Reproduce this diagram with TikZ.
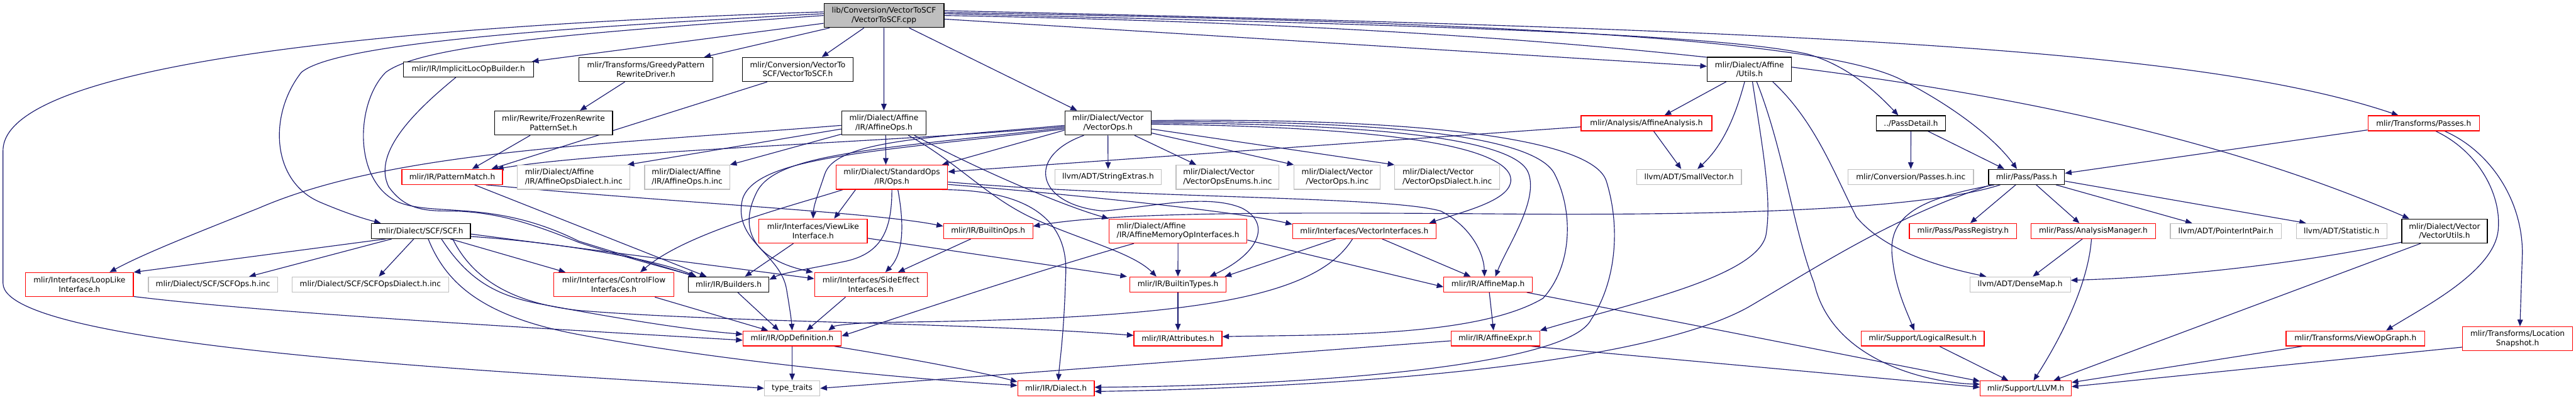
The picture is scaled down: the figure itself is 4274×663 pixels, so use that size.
\documentclass[tikz,border=0pt]{standalone}
\usepackage{fontspec}
\newfontfamily\dvs{DejaVu Sans}
\usetikzlibrary{arrows.meta,calc}
\definecolor{edgec}{HTML}{191970}
\definecolor{redc}{HTML}{FF0000}
\definecolor{grayc}{HTML}{BFBFBF}
\definecolor{mainfill}{HTML}{BFBFBF}
\pgfdeclarelayer{back}
\pgfdeclarelayer{edges}
\pgfsetlayers{back,edges,main}
\tikzset{
  nb/.style={rectangle, line width=1.3pt, inner sep=0pt, minimum height=25pt, fill=white, text=black, font={\dvs\fontsize{12.7}{15}\selectfont}},
  tl/.style={minimum height=40pt, align=center},
  tll/.style={minimum height=40pt, align=left},
  blk/.style={nb, draw=black},
  rd/.style={nb, draw=redc},
  gr/.style={nb, draw=grayc},
  mn/.style={nb, draw=black, fill=mainfill},
  e/.style={draw=edgec, line width=1.2pt, -{Triangle[length=11pt,width=9pt]}},
}
\begin{document}
\begin{tikzpicture}[x=1pt,y=-1pt]
\begin{pgfonlayer}{back}
\fill[white] (0,0) rectangle (4274,663);
\end{pgfonlayer}
\useasboundingbox (0,0) rectangle (4274,663);
% rank 0
\node[mn,tl,minimum width=199pt] (main) at (1466.6,25.7) {lib/Conversion/VectorToSCF\\/VectorToSCF.cpp};
% rank 1
\node[blk,minimum width=216pt] (ILB) at (777,115.2) {mlir/IR/ImplicitLocOpBuilder.h};
\node[blk,tl,minimum width=222pt] (GPR) at (1071.6,115.3) {mlir/Transforms/GreedyPattern\\RewriteDriver.h};
\node[blk,tl,minimum width=184pt] (V2S) at (1323.5,115.3) {mlir/Conversion/VectorTo\\SCF/VectorToSCF.h};
\node[blk,tl,minimum width=140pt] (AU) at (2902.6,115) {mlir/Dialect/Affine\\/Utils.h};
% rank 2
\node[blk,tl,minimum width=196pt] (FRP) at (918.3,204) {mlir/Rewrite/FrozenRewrite\\PatternSet.h};
\node[blk,tl,minimum width=140pt] (AOps) at (1466.5,204) {mlir/Dialect/Affine\\/IR/AffineOps.h};
\node[blk,tl,minimum width=143pt] (VOps) at (1838.2,204) {mlir/Dialect/Vector\\/VectorOps.h};
\node[rd,minimum width=217pt] (AAn) at (2731.7,204.5) {mlir/Analysis/AffineAnalysis.h};
\node[blk,minimum width=115pt] (PD) at (3170.5,204.5) {../PassDetail.h};
\node[rd,minimum width=185pt] (TP) at (4021.2,204.5) {mlir/Transforms/Passes.h};
% rank 3
\node[rd,minimum width=167pt] (PM) at (750.3,293.5) {mlir/IR/PatternMatch.h};
\node[gr,tll,minimum width=187pt] (AOD) at (951.9,294) {mlir/Dialect/Affine\\/IR/AffineOpsDialect.h.inc};
\node[gr,tll,minimum width=141pt] (AOI) at (1140.1,294) {mlir/Dialect/Affine\\/IR/AffineOps.h.inc};
\node[rd,tl,minimum width=185pt] (SO) at (1479.7,294) {mlir/Dialect/StandardOps\\/IR/Ops.h};
\node[gr,minimum width=177pt] (SE) at (1838.5,293.5) {llvm/ADT/StringExtras.h};
\node[gr,tll,minimum width=171pt] (VOE) at (2036.7,294) {mlir/Dialect/Vector\\/VectorOpsEnums.h.inc};
\node[gr,tl,minimum width=143pt] (VOI) at (2218.7,294) {mlir/Dialect/Vector\\/VectorOps.h.inc};
\node[gr,tll,minimum width=174pt] (VOD) at (2401.2,294) {mlir/Dialect/Vector\\/VectorOpsDialect.h.inc};
\node[gr,minimum width=174pt] (SV) at (2802.4,293.5) {llvm/ADT/SmallVector.h};
\node[gr,minimum width=208pt] (PHI) at (3170.3,293.5) {mlir/Conversion/Passes.h.inc};
\node[blk,minimum width=126pt] (P) at (3362.4,293.5) {mlir/Pass/Pass.h};
% rank 4
\node[blk,minimum width=164pt] (SCF) at (698.5,383.3) {mlir/Dialect/SCF/SCF.h};
\node[rd,tl,minimum width=180pt] (VL) at (1349,383.3) {mlir/Interfaces/ViewLike\\Interface.h};
\node[rd,minimum width=148pt] (BO) at (1639.5,383.3) {mlir/IR/BuiltinOps.h};
\node[rd,tll,minimum width=229pt] (AMOI) at (1954.5,383.3) {mlir/Dialect/Affine\\/IR/AffineMemoryOpInterfaces.h};
\node[rd,minimum width=238pt] (VI) at (2263.6,383.3) {mlir/Interfaces/VectorInterfaces.h};
\node[rd,minimum width=178pt] (PR) at (3257,383.3) {mlir/Pass/PassRegistry.h};
\node[rd,minimum width=207pt] (AM) at (3473,383.3) {mlir/Pass/AnalysisManager.h};
\node[gr,minimum width=184pt] (PIP) at (3693,383.3) {llvm/ADT/PointerIntPair.h};
\node[gr,minimum width=150pt] (ST) at (3885,383.3) {llvm/ADT/Statistic.h};
\node[blk,tl,minimum width=142pt] (VU) at (4055.8,383.3) {mlir/Dialect/Vector\\/VectorUtils.h};
% rank 5
\node[rd,tl,minimum width=179pt] (LL) at (131.8,472.3) {mlir/Interfaces/LoopLike\\Interface.h};
\node[gr,minimum width=214pt] (SCFI) at (353.3,472) {mlir/Dialect/SCF/SCFOps.h.inc};
\node[gr,minimum width=260pt] (SCFD) at (614.5,472) {mlir/Dialect/SCF/SCFOpsDialect.h.inc};
\node[rd,tl,minimum width=199pt] (CF) at (1018.4,472.3) {mlir/Interfaces/ControlFlow\\Interfaces.h};
\node[blk,minimum width=134pt] (B) at (1209,472) {mlir/IR/Builders.h};
\node[rd,tl,minimum width=187pt] (SEI) at (1445,472.3) {mlir/Interfaces/SideEffect\\Interfaces.h};
\node[rd,minimum width=160pt] (BT) at (1954.4,472) {mlir/IR/BuiltinTypes.h};
\node[rd,minimum width=147pt] (AMap) at (2469,472) {mlir/IR/AffineMap.h};
\node[gr,minimum width=167pt] (DM) at (3351.7,472) {llvm/ADT/DenseMap.h};
% rank 6
\node[rd,minimum width=163pt] (OD) at (1314.3,561.5) {mlir/IR/OpDefinition.h};
\node[rd,minimum width=146pt] (AT) at (1954.4,561.5) {mlir/IR/Attributes.h};
\node[rd,minimum width=147pt] (AE) at (2481,561.5) {mlir/IR/AffineExpr.h};
\node[rd,minimum width=204pt] (LR) at (3190,561.5) {mlir/Support/LogicalResult.h};
\node[rd,minimum width=230pt] (VOG) at (3908,561.5) {mlir/Transforms/ViewOpGraph.h};
\node[rd,tl,minimum width=183pt] (LS) at (4177,562) {mlir/Transforms/Location\\Snapshot.h};
% rank 7
\node[gr,minimum width=92pt] (TT) at (1314.3,644.2) {type\_traits};
\node[rd,minimum width=127pt] (D) at (1752,644.5) {mlir/IR/Dialect.h};
\node[rd,minimum width=151pt] (LLVM) at (3361,644.5) {mlir/Support/LLVM.h};

\begin{pgfonlayer}{edges}
% from main
\draw[e] ($(main.west)+(0,-6)$) .. controls (900,35) and (5,80) .. (5,250) -- (5,470) .. controls (5,580) and (900,620) .. (TT.west);
\draw[e] ($(main.west)+(0,-3)$) .. controls (950,45) and (560,70) .. (500,120) .. controls (445,190) and (450,300) .. (530,335) .. controls (570,352) and (600,362) .. ($(SCF.north west)+(16,0)$);
\draw[e] (main.west) .. controls (950,55) and (700,75) .. (640,120) .. controls (590,170) and (585,300) .. (660,335) .. controls (720,360) and (820,330) .. (960,400) .. controls (1040,425) and (1110,445) .. ($(B.north west)+(12,0)$);
\draw[e] ($(main.west)+(0,13)$) -- ($(ILB.north east)+(-3,0)$);
\draw[e] ($(main.south west)+(10,0)$) -- ($(GPR.north east)+(-15,0)$);
\draw[e] ($(main.south west)+(67,0)$) -- ($(V2S.north)+(40,0)$);
\draw[e] (main.south) -- (AOps.north);
\draw[e] ($(main.south)+(42,0)$) -- ($(VOps.north west)+(21,0)$);
\draw[e] ($(main.east)+(0,6)$) -- ($(AU.west)+(0,-5)$);
\draw[e] ($(main.east)+(0,-3)$) .. controls (2300,40) and (2850,55) .. (3000,90) .. controls (3070,110) and (3120,160) .. ($(PD.north)+(-21,0)$);
\draw[e] ($(main.east)+(0,-5)$) .. controls (2400,35) and (3000,60) .. (3150,130) .. controls (3240,175) and (3310,230) .. ($(P.north)+(-16,0)$);
\draw[e] ($(main.east)+(0,-8)$) .. controls (3000,50) and (3650,80) .. ($(TP.north)+(-42,0)$);
\draw[e] (main.east) .. controls (2900,50) and (3550,170) .. ($(VU.north west)+(13,0)$);
% rank 1
\draw[e] ($(ILB.south west)+(88,0)$) .. controls (700,175) and (615,250) .. (645,310) .. controls (670,345) and (700,350) .. (740,350) .. controls (820,350) and (880,370) .. (960,402) .. controls (1040,428) and (1110,446) .. ($(B.north west)+(14,0)$);
\draw[e] ($(GPR.south)+(-35,0)$) -- ($(FRP.north)+(44,0)$);
\draw[e] ($(V2S.south west)+(42,0)$) -- ($(PM.north)+(65,0)$);
\draw[e] ($(AU.south west)+(32,0)$) -- ($(AAn.north)+(30,0)$);
\draw[e] ($(AU.south)+(-8,0)$) .. controls (2880,190) and (2860,240) .. ($(SV.north)+(14,0)$);
\draw[e] ($(AU.south)+(5,0)$) .. controls (2925,250) and (2940,330) .. (2930,390) .. controls (2915,460) and (2700,505) .. (AE.north east);
\draw[e] ($(AU.south)+(12,0)$) .. controls (2960,250) and (2975,380) .. (3010,470) .. controls (3040,600) and (3200,635) .. ($(LLVM.west)+(0,-7)$);
\draw[e] ($(AU.south east)+(-32,0)$) .. controls (3010,200) and (3040,280) .. (3080,360) .. controls (3130,420) and (3230,445) .. ($(DM.north west)+(28,0)$);
% rank 2
\draw[e] ($(FRP.south west)+(60,0)$) -- ($(PM.north)+(33,0)$);
\draw[e] ($(AOps.west)+(0,4)$) .. controls (1000,240) and (650,250) .. (430,345) .. controls (330,385) and (240,420) .. ($(LL.north)+(50,0)$);
\draw[e] ($(AOps.west)+(0,10)$) -- ($(AOD.north east)+(-5,0)$);
\draw[e] ($(AOps.south west)+(0,-2)$) -- (AOI.north east);
\draw[e] ($(AOps.south)+(3,0)$) -- ($(SO.north)+(-10,0)$);
\draw[e] ($(AOps.south east)+(-20,0)$) .. controls (1620,280) and (1760,340) .. (AMOI.north west);
\draw[e] ($(AOps.south east)+(-30,0)$) .. controls (1590,270) and (1640,330) .. (1720,365) .. controls (1800,400) and (1880,420) .. ($(BT.north west)+(45,0)$);
\draw[e] ($(VOps.west)+(0,6)$) .. controls (1500,235) and (1000,250) .. ($(PM.north east)+(-10,0)$);
\draw[e] ($(VOps.west)+(0,4)$) .. controls (1550,228) and (1385,232) .. (1368,290) .. controls (1358,320) and (1350,340) .. (VL.north);
\draw[e] ($(VOps.west)+(0,8)$) .. controls (1450,248) and (1285,255) .. (1255,320) .. controls (1225,380) and (1250,430) .. ($(SEI.north west)+(-2,0)$);
\draw[e] ($(VOps.west)+(0,10)$) .. controls (1450,252) and (1255,260) .. (1232,330) .. controls (1215,400) and (1295,420) .. (1305,480) .. controls (1310,510) and (1313,530) .. (OD.north);
\draw[e] ($(VOps.west)+(0,12)$) -- ($(SO.north east)+(-10,0)$);
\draw[e] ($(VOps.south)+(-40,0)$) .. controls (1700,260) and (1720,340) .. (1830,350) .. controls (1900,345) and (2000,320) .. (2060,345) .. controls (2110,370) and (2090,420) .. ($(BT.north east)+(-28,0)$);
\draw[e] (VOps.south) -- (SE.north);
\draw[e] ($(VOps.south east)+(-28,0)$) -- ($(VOE.north)+(-52,0)$);
\draw[e] ($(VOps.south east)+(0,-4)$) -- (VOI.north west);
\draw[e] ($(VOps.east)+(0,10)$) -- (VOD.north west);
\draw[e] ($(VOps.east)+(0,2)$) .. controls (2250,210) and (2480,235) .. (2505,290) .. controls (2520,330) and (2430,350) .. ($(VI.north east)+(-12,0)$);
\draw[e] (VOps.east) .. controls (2280,205) and (2510,230) .. (2535,285) .. controls (2555,330) and (2500,410) .. ($(AMap.north)+(12,0)$);
\draw[e] ($(VOps.east)+(0,-2)$) .. controls (2300,200) and (2550,225) .. (2580,290) .. controls (2610,350) and (2610,440) .. (2560,495) .. controls (2450,560) and (2200,555) .. ($(AT.east)+(0,-3)$);
\draw[e] ($(VOps.east)+(0,-4)$) .. controls (2320,195) and (2640,225) .. (2665,300) .. controls (2690,380) and (2680,470) .. (2640,530) .. controls (2600,610) and (2150,640) .. ($(D.east)+(0,-2)$);
\draw[e] ($(AAn.south)+(12,0)$) -- ($(SV.north)+(-13,0)$);
\draw[e] ($(AAn.west)+(0,6)$) -- ($(SO.east)+(0,-9)$);
\draw[e] (PD.south) -- (PHI.north);
\draw[e] ($(PD.south east)+(-30,0)$) -- ($(P.north)+(-37,0)$);
\draw[e] ($(TP.south west)+(0,-2)$) -- ($(P.east)+(0,-6)$);
\draw[e] ($(TP.south)+(20,0)$) .. controls (4110,250) and (4150,320) .. (4145,380) .. controls (4140,450) and (4020,510) .. ($(VOG.north)+(51,0)$);
\draw[e] ($(TP.south)+(35,0)$) .. controls (4130,250) and (4185,330) .. (4185,420) -- ($(LS.north)+(4,0)$);
% rank 3
\draw[e] ($(PM.south)+(37,0)$) -- ($(B.north west)+(31,0)$);
\draw[e] ($(PM.south east)+(-28,0)$) .. controls (1100,335) and (1450,352) .. ($(BO.west)+(0,-8)$);
\draw[e] ($(SO.south west)+(33,0)$) -- ($(VL.north)+(35,0)$);
\draw[e] ($(SO.south west)+(12,0)$) .. controls (1320,340) and (1140,385) .. ($(CF.north)+(44,0)$);
\draw[e] (SO.south) .. controls (1480,385) and (1460,420) .. (1405,433) .. controls (1350,445) and (1300,452) .. ($(B.east)+(0,-8)$);
\draw[e] ($(SO.south)+(10,0)$) .. controls (1500,370) and (1500,420) .. ($(SEI.north)+(24,0)$);
\draw[e] ($(SO.east)+(0,8)$) .. controls (1900,330) and (2300,325) .. (2390,350) .. controls (2440,375) and (2462,420) .. ($(AMap.north)+(-6,0)$);
\draw[e] ($(SO.east)+(0,12)$) .. controls (1750,320) and (2050,350) .. ($(VI.north west)+(0,2)$);
\draw[e] ($(SO.south east)+(-10,0)$) .. controls (1700,315) and (1775,360) .. (1768,460) .. controls (1765,560) and (1758,600) .. ($(D.north)+(4,0)$);
\draw[e] ($(P.south west)+(20,0)$) .. controls (3200,345) and (2900,358) .. (2500,355) .. controls (2100,352) and (1850,352) .. ($(BO.east)+(0,-8)$);
\draw[e] ($(P.south west)+(5,0)$) .. controls (3140,360) and (3020,440) .. (2900,510) .. controls (2700,620) and (2100,645) .. ($(D.east)+(0,5)$);
\draw[e] ($(P.south)+(-18,0)$) -- ($(PR.north)+(12,0)$);
\draw[e] ($(P.south)+(16,0)$) -- ($(AM.north)+(-23,0)$);
\draw[e] ($(P.south east)+(-15,0)$) -- ($(PIP.north)+(-56,0)$);
\draw[e] ($(P.east)+(0,7)$) -- ($(ST.north)+(-59,0)$);
\draw[e] ($(P.south west)+(10,0)$) .. controls (3180,330) and (3130,360) .. (3140,430) .. controls (3145,480) and (3165,520) .. ($(LR.north)+(-14,0)$);
% rank 4
\draw[e] ($(SCF.south west)+(24,0)$) -- (LL.north east);
\draw[e] ($(SCF.south west)+(34,0)$) -- ($(SCFI.north)+(60,0)$);
\draw[e] ($(SCF.south)+(-12,0)$) -- ($(SCFD.north)+(14,0)$);
\draw[e] ($(SCF.south east)+(-34,0)$) -- ($(CF.north west)+(20,0)$);
\draw[e] ($(SCF.east)+(0,5)$) -- ($(SEI.west)+(0,-10)$);
\draw[e] ($(SCF.east)+(0,9)$) .. controls (960,405) and (1100,435) .. ($(B.north west)+(14,0)$);
\draw[e] ($(SCF.south)+(34,0)$) .. controls (780,470) and (830,492) .. (900,505) .. controls (1050,533) and (1150,548) .. ($(OD.west)+(0,-7)$);
\draw[e] ($(SCF.south east)+(-30,0)$) .. controls (790,475) and (870,505) .. (960,515) .. controls (1200,535) and (1600,535) .. ($(AT.west)+(0,-5)$);
\draw[e] ($(SCF.south)+(12,0)$) .. controls (740,470) and (800,525) .. (960,555) .. controls (1200,600) and (1500,628) .. ($(D.west)+(0,-5)$);
\draw[e] ($(VL.south west)+(58,0)$) -- ($(B.north)+(27,0)$);
\draw[e] ($(VL.east)+(0,12)$) -- ($(BT.north west)+(-4,0)$);
\draw[e] ($(BO.south west)+(46,0)$) -- ($(SEI.north)+(45,0)$);
\draw[e] (AMOI.south) -- (BT.north);
\draw[e] ($(AMOI.south west)+(42,0)$) .. controls (1700,455) and (1450,540) .. ($(OD.east)+(0,-4)$);
\draw[e] ($(AMOI.east)+(0,15)$) -- ($(AMap.west)+(0,4)$);
\draw[e] ($(VI.south west)+(72,0)$) -- ($(BT.north east)+(-3,0)$);
\draw[e] ($(VI.south west)+(100,0)$) .. controls (2180,500) and (1950,530) .. (1450,535) .. controls (1410,537) and (1385,540) .. ($(OD.north east)+(-22,0)$);
\draw[e] ($(VI.south east)+(-90,0)$) -- ($(AMap.north)+(-29,0)$);
\draw[e] ($(AM.south)+(-18,0)$) -- ($(DM.north)+(21,0)$);
\draw[e] ($(AM.south)+(-3,0)$) .. controls (3465,470) and (3420,560) .. ($(LLVM.north)+(13,0)$);
\draw[e] ($(VU.south west)+(0,-2)$) .. controls (3800,440) and (3600,460) .. ($(DM.east)+(0,-7)$);
\draw[e] ($(VU.south west)+(32,0)$) -- ($(LLVM.north east)+(-30,0)$);
% rank 5
\draw[e] ($(LL.south east)+(0,-1)$) .. controls (450,520) and (900,545) .. ($(OD.west)+(0,3)$);
\draw[e] ($(CF.south east)+(-32,0)$) -- ($(OD.north)+(-40,0)$);
\draw[e] ($(B.south)+(15,0)$) -- ($(OD.north)+(-22,0)$);
\draw[e] ($(SEI.south west)+(52,0)$) -- ($(OD.north)+(24,0)$);
\draw[e] (BT.south) -- (AT.north);
\draw[e] ($(AMap.south)+(2,0)$) -- ($(AE.north)+(-3,0)$);
\draw[e] ($(AMap.south east)+(-10,0)$) -- ($(LLVM.west)+(0,-12)$);
% rank 6
\draw[e] (OD.south) -- (TT.north);
\draw[e] ($(OD.south east)+(-12,0)$) .. controls (1480,590) and (1620,615) .. ($(D.west)+(0,-11)$);
\draw[e] ($(AE.west)+(0,4)$) -- (TT.east);
\draw[e] ($(AE.south east)+(-14,0)$) -- ($(LLVM.west)+(0,-2)$);
\draw[e] ($(LR.south)+(28,0)$) -- ($(LLVM.north)+(-29,0)$);
\draw[e] ($(VOG.south west)+(27,0)$) -- ($(LLVM.east)+(0,-10)$);
\draw[e] ($(LS.west)+(0,14)$) -- ($(LLVM.east)+(0,-3)$);
\end{pgfonlayer}
\end{tikzpicture}
\end{document}
